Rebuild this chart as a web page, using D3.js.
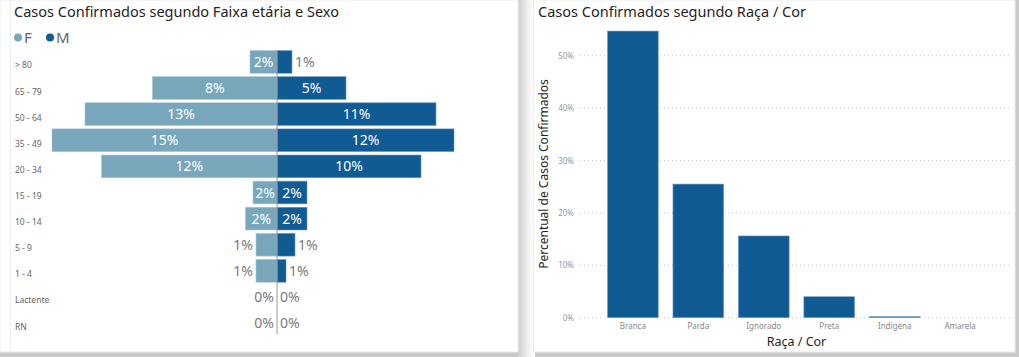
<!DOCTYPE html>
<html><head><meta charset="utf-8">
<script src="https://cdn.jsdelivr.net/npm/d3@7"></script>
<style>
html,body{margin:0;padding:0;background:#fff;}
svg{display:block;}
</style></head>
<body><svg id="c" width="1019" height="357"></svg>
<script>
// ---- Data ----
const ageGroups = ["> 80","65 - 79","50 - 64","35 - 49","20 - 34","15 - 19","10 - 14","5 - 9","1 - 4","Lactente","RN"];
const femaleValues = [1.8, 8.3, 12.8, 15.0, 11.7, 1.6, 2.1, 1.4, 1.4, 0, 0];
const maleValues   = [1.0, 4.6, 10.6, 11.8, 9.6, 2.0, 2.0, 1.2, 0.6, 0, 0];
const sexLegend = ["F","M"];

const raceCategories = ["Branca","Parda","Ignorado","Preta","Indigena","Amarela"];
const raceValues = [54.7, 25.5, 15.6, 4.0, 0.2, 0.0];
const raceTicks = [0, 10, 20, 30, 40, 50];

const FONT = "'Noto Sans', 'Open Sans', sans-serif";
const colF = "#78a7bb", colM = "#115b95";

const svg = d3.select("#c");

// ---- panels & shadows ----
const defs = svg.append("defs");
const gR = defs.append("linearGradient").attr("id","shR").attr("x1","0").attr("x2","1");
gR.append("stop").attr("offset","0").attr("stop-color","#cfcfcf");
gR.append("stop").attr("offset","1").attr("stop-color","#ffffff");
svg.append("rect").attr("x",0).attr("y",0).attr("width",1019).attr("height",357).attr("fill","#fff");
svg.append("rect").attr("x",0).attr("y",352).attr("width",518).attr("height",5).attr("fill","#c9c9c9");
svg.append("rect").attr("x",518).attr("y",0).attr("width",15).attr("height",357).attr("fill","url(#shR)");
svg.append("rect").attr("x",535).attr("y",352).attr("width",484).attr("height",5).attr("fill","#c9c9c9");
svg.append("rect").attr("x",1015).attr("y",0).attr("width",4).attr("height",357).attr("fill","#c9c9c9");
svg.append("line").attr("x1",10.5).attr("x2",10.5).attr("y1",0).attr("y2",352).attr("stroke","#f0f0f0");
svg.append("rect").attr("x",0).attr("y",0).attr("width",518).attr("height",352).attr("fill","none").attr("stroke","#ececec");
svg.append("rect").attr("x",533.5).attr("y",0).attr("width",481.5).attr("height",352).attr("fill","#fff").attr("stroke","#ececec");

// ---- Left chart ----
const L = svg.append("g");
L.append("text").attr("x",14).attr("y",17).attr("font-family",FONT).attr("font-size",14.5)
  .attr("fill","#252423").text("Casos Confirmados segundo Faixa etária e Sexo");

// legend
const legX = [18, 50];
sexLegend.forEach((s,i)=>{
  L.append("circle").attr("cx",legX[i]).attr("cy",37.5).attr("r",4).attr("fill", i===0?colF:colM);
  L.append("text").attr("x",legX[i]+6).attr("y",43).attr("font-family",FONT).attr("font-size",15)
    .attr("fill","#666").text(s);
});

const x = d3.scaleLinear().domain([-15, 15]).range([52, 502]);
const y = d3.scaleBand().domain(ageGroups).range([49.5, 335.5]).paddingInner(0.13).paddingOuter(0.04);

// age labels
L.selectAll("text.age").data(ageGroups).join("text").attr("class","age")
  .attr("x",15).attr("y",d=>y(d)+y.bandwidth()/2+6.5)
  .attr("font-family",FONT).attr("font-size",8.5).attr("fill","#666").text(d=>d);

const rows = ageGroups.map((g,i)=>({g, f:femaleValues[i], m:maleValues[i]}));
// female bars
L.selectAll("rect.f").data(rows).join("rect").attr("class","f")
  .attr("x",d=>x(-d.f)).attr("width",d=>x(0)-x(-d.f))
  .attr("y",d=>y(d.g)).attr("height",y.bandwidth()).attr("fill",colF)
  .attr("stroke","#a9c6d3").attr("stroke-width",d=>d.f>0?0.6:0);
L.selectAll("rect.m").data(rows).join("rect").attr("class","m")
  .attr("x",x(0)).attr("width",d=>x(d.m)-x(0))
  .attr("y",d=>y(d.g)).attr("height",y.bandwidth()).attr("fill",colM)
  .attr("stroke","#6f9cc2").attr("stroke-width",d=>d.m>0?0.6:0);

// center line
L.append("line").attr("x1",x(0)).attr("x2",x(0)).attr("y1",50).attr("y2",334)
  .attr("stroke","#9a9a9a").attr("stroke-width",1);

// value labels
const fmt = v => Math.round(v) + "%";
const TH = 22;
rows.forEach(d=>{
  const wF = x(0)-x(-d.f), wM = x(d.m)-x(0);
  const cy = y(d.g)+y.bandwidth()/2+5;
  const tF = L.append("text").attr("y",cy).attr("font-family",FONT).attr("font-size",14).text(fmt(d.f));
  if (wF >= TH) tF.attr("x",x(-d.f/2)).attr("text-anchor","middle").attr("fill","#fff");
  else tF.attr("x",x(-d.f)-3).attr("text-anchor","end").attr("fill","#7a7a7a");
  const tM = L.append("text").attr("y",cy).attr("font-family",FONT).attr("font-size",14).text(fmt(d.m));
  if (wM >= TH) tM.attr("x",x(d.m/2)).attr("text-anchor","middle").attr("fill","#fff");
  else tM.attr("x",x(d.m)+3).attr("text-anchor","start").attr("fill","#7a7a7a");
});

// ---- Right chart ----
const R = svg.append("g");
R.append("text").attr("x",538).attr("y",17).attr("font-family",FONT).attr("font-size",14.5)
  .attr("fill","#252423").text("Casos Confirmados segundo Raça / Cor");

const yr = d3.scaleLinear().domain([0, 50]).range([317.7, 55.7]);
const xr = d3.scaleBand().domain(raceCategories).range([600.3, 992.7]).paddingInner(0.225).paddingOuter(0.11);

// gridlines
R.selectAll("line.grid").data(raceTicks).join("line").attr("class","grid")
  .attr("x1",580).attr("x2",1011).attr("y1",d=>yr(d)).attr("y2",d=>yr(d))
  .attr("stroke","#c8c8c8").attr("stroke-dasharray","1,3").attr("stroke-width",1);

const yAxis = d3.axisLeft(yr).tickValues(raceTicks).tickFormat(d=>d+"%").tickSize(0).tickPadding(0);
const ya = R.append("g").attr("transform","translate(574,0)").call(yAxis);
ya.select(".domain").remove();
ya.selectAll("text").attr("font-family",FONT).attr("font-size",8).attr("fill","#999").attr("dy","0.32em");

// bars
R.selectAll("rect.bar").data(raceCategories).join("rect").attr("class","bar")
  .attr("x",d=>xr(d)).attr("width",xr.bandwidth())
  .attr("y",(d,i)=>yr(raceValues[i])).attr("height",(d,i)=>yr(0)-yr(raceValues[i]))
  .attr("fill",colM).attr("stroke","#6f9cc2").attr("stroke-width",(d,i)=>raceValues[i]>0?0.6:0);

const xAxis = d3.axisBottom(xr).tickSize(0).tickPadding(0);
const xa = R.append("g").attr("transform","translate(0,323)").call(xAxis);
xa.select(".domain").remove();
xa.selectAll("text").attr("font-family",FONT).attr("font-size",8).attr("fill","#888").attr("dy","0.71em");

R.append("text").attr("x",796.5).attr("y",346).attr("text-anchor","middle")
  .attr("font-family",FONT).attr("font-size",12.5).attr("fill","#252423").text("Raça / Cor");
R.append("text").attr("transform","translate(548,174) rotate(-90)").attr("text-anchor","middle")
  .attr("font-family",FONT).attr("font-size",12).attr("fill","#252423").text("Percentual de Casos Confirmados");
</script>
</body></html>
